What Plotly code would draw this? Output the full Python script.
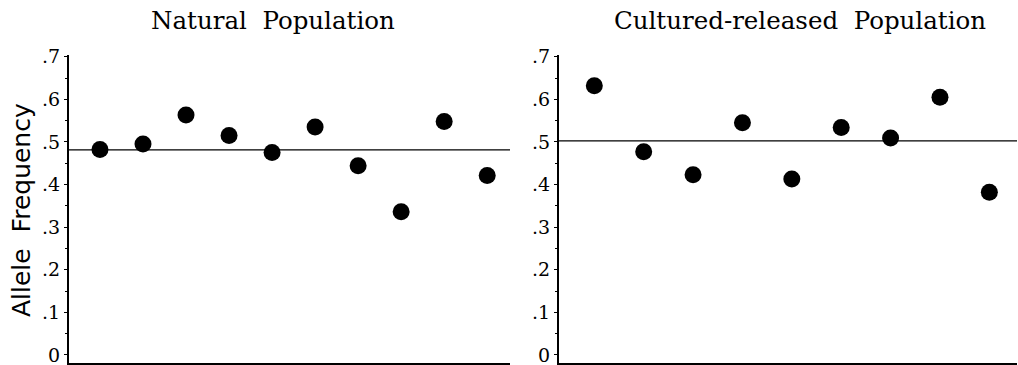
import plotly.graph_objects as go

# Data
natural_samples = [1, 2, 3, 4, 5, 6, 7, 8, 9, 10]
natural_freq = [0.482, 0.495, 0.563, 0.515, 0.475, 0.535, 0.444, 0.336, 0.548, 0.421]
cultured_samples = [1, 2, 3, 4, 5, 6, 7, 8, 9]
cultured_freq = [0.632, 0.477, 0.423, 0.545, 0.413, 0.534, 0.509, 0.605, 0.382]
tick_vals = [0, 0.1, 0.2, 0.3, 0.4, 0.5, 0.6, 0.7]
tick_text = ["0", ".1", ".2", ".3", ".4", ".5", ".6", ".7"]
titles = ["Natural&nbsp;&nbsp;Population", "Cultured-released&nbsp;&nbsp;Population"]
y_title = "Allele&nbsp;&nbsp;Frequency"

W, H = 1018, 365
serif = "DejaVu Serif"


def px(x):
    return x / W


def py(y):
    return 1 - y / H


fig = go.Figure()
fig.add_trace(go.Scatter(x=natural_samples, y=natural_freq, mode="markers",
                         marker=dict(color="black", size=17), xaxis="x", yaxis="y",
                         showlegend=False, cliponaxis=False))
fig.add_trace(go.Scatter(x=cultured_samples, y=cultured_freq, mode="markers",
                         marker=dict(color="black", size=17), xaxis="x2", yaxis="y2",
                         showlegend=False, cliponaxis=False))

mean_nat = sum(natural_freq) / len(natural_freq)
mean_cul = sum(cultured_freq) / len(cultured_freq)
fig.add_shape(type="line", xref="x domain", yref="y", x0=0, x1=1, y0=mean_nat, y1=mean_nat,
              line=dict(color="black", width=1.2))
fig.add_shape(type="line", xref="x2 domain", yref="y2", x0=0, x1=1, y0=mean_cul, y1=mean_cul,
              line=dict(color="black", width=1.2))

ydom = [py(363), py(55)]
yax = dict(range=[-0.019, 0.704], tickvals=tick_vals, ticktext=tick_text, showgrid=False,
           zeroline=False, showline=True, linecolor="black", linewidth=2, automargin=False,
           ticks="outside", ticklen=3, tickwidth=1, tickcolor="black",
           ticklabeloverflow="allow",
           tickfont=dict(family=serif, size=19, color="black"), domain=ydom,
           minor=dict(ticks="outside", ticklen=2, tickcolor="black", dtick=0.05))
xax = dict(showgrid=False, zeroline=False, showline=True, linecolor="black", linewidth=2,
           showticklabels=False, ticks="", automargin=False)

fig.update_layout(
    width=W, height=H, margin=dict(l=0, r=0, t=0, b=0, autoexpand=False),
    plot_bgcolor="white", paper_bgcolor="white",
    xaxis=dict(xax, domain=[px(69), px(510)], range=[0.28, 10.53], anchor="y"),
    xaxis2=dict(xax, domain=[px(559), px(1017)], range=[0.285, 9.56], anchor="y2"),
    yaxis=dict(yax, anchor="x"),
    yaxis2=dict(yax, anchor="x2"),
    hovermode=False,
)

fig.add_annotation(text=titles[0], x=px(273), y=py(21), xref="paper", yref="paper",
                   showarrow=False, xanchor="center", yanchor="middle",
                   font=dict(family=serif, size=24.5, color="black"))
fig.add_annotation(text=titles[1], x=px(800), y=py(21), xref="paper", yref="paper",
                   showarrow=False, xanchor="center", yanchor="middle",
                   font=dict(family=serif, size=24.5, color="black"))
fig.add_annotation(text=y_title, x=px(21), y=py(210), xref="paper", yref="paper",
                   showarrow=False, xanchor="center", yanchor="middle", textangle=-90,
                   font=dict(family="DejaVu Sans", size=25, color="black"))

# remove the browser's default page margin so the figure sits at the window's corner
fig.write_html("out.html", config={"displayModeBar": False},
               post_script="document.body.style.margin='0px';")
